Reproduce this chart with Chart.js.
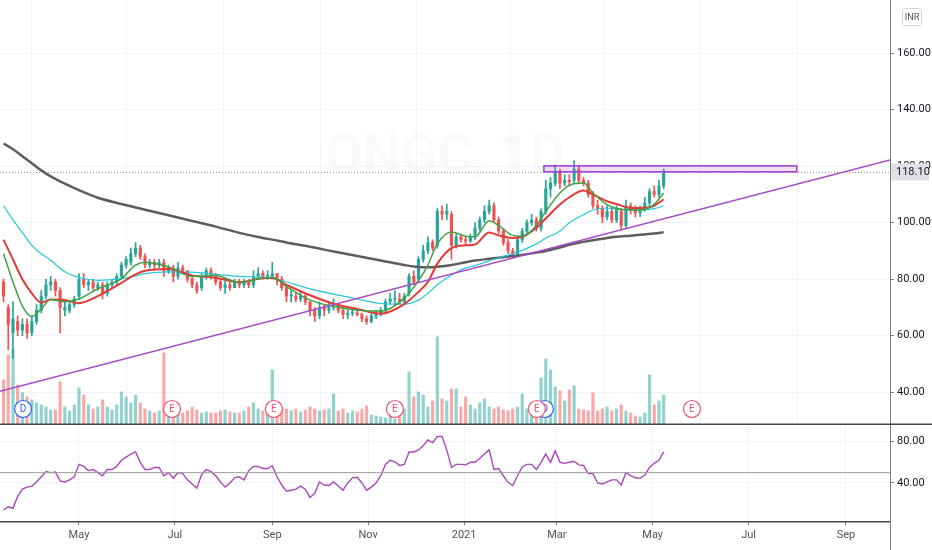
<!DOCTYPE html>
<html>
<head>
<meta charset="utf-8">
<script src="https://cdn.jsdelivr.net/npm/chart.js@4.4.1/dist/chart.umd.min.js"></script>
<style>
  html, body { margin: 0; padding: 0; background: #fff; }
  #wrap { position: relative; width: 932px; height: 550px; overflow: hidden; }
  .pane { position: absolute; left: 0; width: 932px; }
</style>
</head>
<body>
<div id="wrap">
  <div class="pane" style="top:0;height:425px"><canvas id="priceChart"></canvas></div>
  <div class="pane" style="top:425px;height:125px"><canvas id="rsiChart"></canvas></div>
</div>
<script>
// daily bars, sampled every 3 days; x is days after 1 Mar 2020
const firstDay = 13;
const barStep = 3;
const xMin = 10.75, xMax = 577;

const monthDays = [61, 122, 184, 245, 306, 365, 426, 487, 549];
const monthLabels = ['May', 'Jul', 'Sep', 'Nov', '2021', 'Mar', 'May', 'Jul', 'Sep'];

const opens = [
  79, 70, 61, 65, 62, 64, 61, 65, 69, 74,
  78, 79, 76, 69, 69, 71, 74, 80, 78, 79,
  77, 78, 75, 78, 79, 81, 85, 86, 89, 91,
  88, 85, 86, 85, 86, 83, 84, 81, 84, 83,
  80, 78, 77, 81, 83, 81, 79, 77, 78, 77,
  79, 78, 79, 78, 81, 82, 81, 81, 82, 80,
  77, 74, 74, 73, 74, 72, 69, 67, 70, 69,
  70, 70.5, 69, 67.5, 68, 68, 67.5, 66, 65, 67,
  68, 69, 72, 73, 73, 72, 75, 81, 80, 87,
  90, 93, 92, 104, 103, 103, 92, 95, 94, 93.5,
  95, 98, 101, 104, 106, 101, 97, 93, 90, 89,
  94, 97, 100, 101, 98, 104, 112, 114, 118, 114,
  115, 115, 119, 115, 114, 110, 106, 105, 102, 104,
  101, 104, 99, 106, 104.5, 103.5, 105, 107, 111, 110,
  113
];
const highs = [
  80, 71, 72, 67, 66, 66, 67, 71, 76, 80,
  81, 80, 77, 72, 72, 74, 82, 82, 80, 80,
  79, 79, 79, 80, 82, 86, 88, 91, 93, 92,
  89, 87, 87, 87, 87, 85, 85, 86, 85, 83,
  81, 79, 82, 84, 84, 82, 80, 80, 80, 80,
  80, 80, 80, 83, 84, 83, 83, 86, 82, 81,
  78, 76, 75, 76, 75, 72, 70, 72, 71, 72,
  73, 71, 70, 69, 70, 69, 68, 67, 68, 69,
  70, 73, 75, 76, 75, 75, 82, 83, 88, 92,
  95, 94, 105, 106, 106.5, 104, 96, 96, 95, 96,
  100, 102, 106, 108, 107, 102, 98, 94, 91, 95,
  98, 101, 103, 102, 105, 115, 116, 120.4, 119, 117,
  117, 122, 120, 116, 115, 111, 108, 106, 106, 105,
  106, 105, 108, 107, 106, 106, 109, 112, 113, 115,
  119
];
const lows = [
  72, 55, 52, 60, 60, 59, 60, 64, 68, 73,
  76, 74, 61, 67, 68, 70, 73, 77, 76, 76,
  76, 73, 74, 77, 78, 80, 84, 85, 88, 87,
  84, 84, 83, 84, 81, 82, 79, 80, 82, 79,
  77, 75, 76, 80, 80, 78, 76, 75, 76, 77,
  77, 77, 77, 77, 80, 80, 80, 80, 78, 76,
  72, 72, 72, 72, 71, 67, 65, 66, 67, 68,
  69, 68, 66, 66, 67, 67, 65, 64, 64.5, 66,
  67, 68, 71, 71, 71, 71, 74, 78, 79, 86,
  89, 90, 91, 101, 101, 87, 91, 93, 92, 93,
  94, 97, 100, 103, 100, 96, 92, 89, 87.5, 88,
  93, 96, 99, 97, 97, 103, 109, 113, 112, 113,
  113, 114, 114, 113, 109, 105, 103, 100, 101, 100,
  100, 97.5, 98, 103, 102, 102, 104, 106, 109, 109,
  112
];
const closes = [
  74, 64, 66, 62, 64, 61, 65, 69, 74, 78,
  79, 76, 70, 70, 71, 73, 80, 78, 79, 77,
  78, 75, 78, 79, 81, 85, 87, 89, 91, 88,
  85, 86, 85, 86, 83, 84, 81, 84, 83, 80,
  78, 76, 81, 83, 81, 79, 77, 78, 77, 79,
  78, 79, 78, 81, 82, 81, 81, 82, 80, 77,
  74, 74.5, 73, 74, 72, 69, 67, 70, 69, 70,
  70.5, 69, 67.5, 68, 68, 67.5, 66, 65, 67, 68,
  69, 72, 73, 73, 72, 74, 81, 79, 87, 90,
  93, 91, 104, 103, 104, 92, 95, 94, 93.5, 95,
  98, 101, 104, 106, 101, 97, 93, 90, 89, 94,
  97, 100, 101, 98, 104, 112, 114, 118, 114, 115,
  114.5, 119, 115, 114, 110, 106, 105, 102, 104, 101,
  105, 99, 106, 104.5, 103.5, 105, 107, 111, 110, 113,
  118.1
];
// volume, millions of shares
const volumes = [
  45, 70, 76, 40, 32, 28, 25, 22, 20, 18,
  15, 15, 43, 18, 14, 20, 37, 30, 20, 16,
  18, 25, 18, 15, 20, 33, 28, 22, 30, 22,
  16, 14, 12, 14, 72, 18, 16, 12, 12, 14,
  18, 15, 12, 13, 12, 12, 14, 15, 13, 12,
  12, 14, 18, 22, 16, 14, 18, 55, 22, 18,
  16, 14, 16, 13, 15, 18, 16, 14, 15, 16,
  31, 14, 16, 12, 14, 13, 16, 19, 10, 9,
  8, 7, 9, 6, 8, 16, 53, 28, 33, 30,
  18, 24, 88, 26, 24, 36, 36, 18, 28, 20,
  16, 22, 26, 18, 16, 18, 15, 14, 16, 18,
  31, 16, 14, 18, 47, 66, 55, 38, 34, 24,
  35, 39, 16, 15, 14, 32, 14, 16, 18, 14,
  16, 20, 14, 12, 9, 8, 12, 50, 20, 24,
  30
];
const rsiValues = [
  14, 17, 15.5, 27, 34, 36, 37, 41, 46, 51,
  50, 50.5, 42, 41, 43, 46, 58, 56, 52, 53,
  50, 47, 53, 53, 56, 62, 65, 68, 70, 60,
  53, 53, 55, 55, 47, 50, 44.5, 50, 49, 43,
  39, 35, 48, 53, 51, 47, 41, 36, 40, 45,
  46, 43, 52, 56, 56, 54, 54, 56.5, 46, 38,
  32, 33, 34, 37, 34, 26, 30, 41, 38, 37.5,
  41, 37, 33, 40, 45, 45.5, 40, 33, 36, 40,
  47, 58, 62, 60.5, 57, 58, 70, 70, 72, 76,
  81.6, 79, 85, 85, 72, 55, 58, 58, 57.5, 60,
  60, 64, 68, 72, 53, 54, 47, 40.6, 37.5, 47,
  55.5, 58, 58, 53, 60, 68, 60, 71, 60, 59,
  60, 61, 57.5, 57, 49, 49, 40, 39, 41, 43,
  43, 38, 50, 47, 45, 44.5, 47.5, 55, 59, 62,
  70
];
const rsiMid = 50;

// moving averages, read at these bar numbers
const maBars = [0, 2, 4, 6, 8, 10, 13, 16, 20, 25, 28, 30, 35, 40, 45, 50, 55, 57, 60, 65, 70, 75, 80,
  85, 88, 90, 92, 95, 98, 100, 103, 105, 108, 110, 113, 115, 118, 120, 123, 125, 128, 130, 133, 135, 138, 140];
const emaFast = [89, 79, 70.5, 66.8, 69.5, 72.8, 72, 73, 76.6, 80.2, 85, 86, 84.3, 81, 81.3, 78.8, 80.4, 80.6,
  77.4, 72.6, 70.4, 69, 68.7, 73.3, 79.5, 85, 92.5, 96.7, 95.2, 95, 100.7, 99, 95.5, 95.2, 99, 104, 110.5,
  113.2, 114, 110.5, 106.4, 105, 104.5, 104.5, 106.5, 110.5];
const emaMid = [94, 87, 80, 75, 71.7, 72.8, 72.6, 71.5, 74, 78.7, 81.7, 83, 83.6, 81.3, 80.5, 79, 80.3, 80.4,
  78, 74.3, 71.3, 69.5, 67.8, 71.2, 75.5, 79, 85.5, 91, 92, 92.3, 96.5, 95.5, 94.6, 95, 98.2, 101.5, 106.4,
  109, 111.4, 110, 107.6, 106.6, 105.2, 105.2, 106, 108.3];
const emaSlow = [106, 101, 96.5, 92, 89, 86.7, 82.6, 80.6, 79.6, 80.2, 81.2, 82, 82.6, 82.5, 81.7, 81, 80.7,
  80.4, 79, 76.6, 74.7, 73, 71.4, 71.2, 72.6, 75, 78, 81.5, 84, 84.8, 86.5, 87.6, 89, 90.2, 92.5, 94.5, 97,
  100, 102.8, 104.5, 105.2, 104.8, 104.5, 104.5, 105, 106];
const sma200 = [128, 126, 123.5, 121, 118.5, 116.4, 113.8, 111.5, 108.8, 106.6, 105.4, 104.6, 102.6, 100.6,
  98.6, 96.4, 94.6, 94, 93, 91.5, 89.8, 88.2, 86.6, 85, 84.3, 84.2, 84.4, 85, 86, 86.6, 87.2, 87.6, 88.2,
  88.6, 89.4, 90, 91.2, 92.2, 93.2, 93.8, 94.6, 95, 95.4, 95.7, 96.2, 96.6];

// drawings
const trendDays = [10.75, 577];
const trendPrices = [40.3, 122.2];
const boxDays = [356.8, 517.7];
const boxPrices = [118.0, 120.1];
const earningsDays = [120.2, 185, 262, 352.3, 451];
const dividendDays = [25.4, 357.4];

const UP = '#26a69a', DOWN = '#ef5350';
const FONT = 'Roboto, "Liberation Sans", sans-serif';
const PANE_LINE = '#434651';
const barDay = i => firstDay + i * barStep;

const candleColors = closes.map((c, i) => c >= opens[i] ? UP : DOWN);
const volColors = closes.map((c, i) => c >= opens[i] ? 'rgba(38,166,154,0.5)' : 'rgba(239,83,80,0.5)');
const bodyData = closes.map((c, i) => ({x: barDay(i), y: [Math.min(opens[i], c), Math.max(opens[i], c)]}));
const wickData = closes.map((c, i) => ({x: barDay(i), y: [lows[i], highs[i]]}));
const volData = volumes.map((v, i) => ({x: barDay(i), y: v}));
const maLine = vals => maBars.map((b, k) => ({x: barDay(b), y: vals[k]}));

function monthTicks(scale) {
    scale.ticks = monthDays.map(v => ({value: v}));
}

// no label overflow padding, so the plot fills the pane edge to edge
function noPad(scale) {
    scale.paddingTop = scale.paddingBottom = scale.paddingLeft = scale.paddingRight = 0;
}

function hLine(ctx, x1, x2, y, color, width) {
    ctx.strokeStyle = color;
    ctx.lineWidth = width;
    ctx.beginPath();
    ctx.moveTo(x1, y);
    ctx.lineTo(x2, y);
    ctx.stroke();
}

function drawMarker(ctx, cx, cy, letter, color) {
    ctx.beginPath();
    ctx.arc(cx, cy, 8.5, 0, Math.PI * 2);
    ctx.fillStyle = '#fff';
    ctx.fill();
    ctx.lineWidth = 1.2;
    ctx.strokeStyle = color;
    ctx.stroke();
    ctx.fillStyle = color;
    ctx.font = '10px ' + FONT;
    ctx.textAlign = 'center';
    ctx.textBaseline = 'middle';
    ctx.fillText(letter, cx, cy + 0.5);
}

const priceOverlays = {
    id: 'priceOverlays',
    beforeDatasetsDraw(chart) {
        const {ctx, chartArea: a} = chart;
        ctx.save();
        ctx.font = '600 54px ' + FONT;
        ctx.fillStyle = 'rgba(19,23,34,0.025)';
        ctx.textAlign = 'center';
        ctx.textBaseline = 'middle';
        ctx.fillText('ONGC, 1D', (a.left + a.right) / 2, 158);
        ctx.restore();
    },
    afterDatasetsDraw(chart) {
        const {ctx, chartArea: a, scales: {x, y}} = chart;
        ctx.save();
        // last price line
        const yp = Math.round(y.getPixelForValue(closes[closes.length - 1])) + 0.5;
        ctx.setLineDash([1, 2]);
        hLine(ctx, a.left, a.right, yp, '#9598a1', 1);
        ctx.setLineDash([]);
        // resistance box
        const bx1 = x.getPixelForValue(boxDays[0]), bx2 = x.getPixelForValue(boxDays[1]);
        const by1 = y.getPixelForValue(boxPrices[1]), by2 = y.getPixelForValue(boxPrices[0]);
        ctx.fillStyle = 'rgba(186,104,200,0.22)';
        ctx.fillRect(bx1, by1, bx2 - bx1, by2 - by1);
        ctx.strokeStyle = '#a13bd1';
        ctx.lineWidth = 1.5;
        ctx.strokeRect(bx1, by1, bx2 - bx1, by2 - by1);
        // events
        const cy = a.bottom - 16;
        dividendDays.forEach(d => drawMarker(ctx, x.getPixelForValue(d), cy, 'D', '#2962ff'));
        earningsDays.forEach(d => drawMarker(ctx, x.getPixelForValue(d), cy, 'E', '#f0506e'));
        ctx.restore();
    },
    afterDraw(chart) {
        const {ctx, chartArea: a, scales: {y}, width} = chart;
        ctx.save();
        // pane separator
        hLine(ctx, 0, width, a.bottom - 0.75, PANE_LINE, 1.5);
        // last price label
        const last = closes[closes.length - 1];
        const yp = y.getPixelForValue(last);
        ctx.fillStyle = '#dfe1e6';
        ctx.fillRect(a.right + 1, yp - 8, 38, 17);
        ctx.fillStyle = '#131722';
        ctx.font = '11px ' + FONT;
        ctx.textAlign = 'left';
        ctx.textBaseline = 'middle';
        ctx.fillText(last.toFixed(2), a.right + 6, yp + 0.5);
        // currency badge
        ctx.strokeStyle = '#d1d4dc';
        ctx.lineWidth = 1;
        ctx.beginPath();
        ctx.roundRect(a.right + 12.5, 8.5, 19, 17, 3);
        ctx.stroke();
        ctx.fillStyle = '#50535e';
        ctx.font = '9px ' + FONT;
        ctx.textAlign = 'center';
        ctx.fillText('INR', a.right + 22, 17.5);
        ctx.restore();
    }
};

// bottom pane edge, and the right-hand axis line carried down through the date labels
const rsiFrame = {
    id: 'rsiFrame',
    afterDraw(chart) {
        const {ctx, chartArea: a, height} = chart;
        ctx.save();
        hLine(ctx, 0, a.right + 1, a.bottom + 0.75, PANE_LINE, 1.5);
        ctx.strokeStyle = '#787b86';
        ctx.lineWidth = 1;
        ctx.beginPath();
        ctx.moveTo(Math.round(a.right) + 0.5, a.bottom);
        ctx.lineTo(Math.round(a.right) + 0.5, height);
        ctx.stroke();
        ctx.restore();
    }
};

function drawCharts() {
    const priceCtx = document.getElementById('priceChart').getContext('2d');
    new Chart(priceCtx, {
        type: 'bar',
        data: {
            datasets: [
                {type: 'bar', data: volData, yAxisID: 'yVol', backgroundColor: volColors,
                    barThickness: 2.5, grouped: false, order: 10},
                {type: 'bar', data: wickData, backgroundColor: candleColors,
                    barThickness: 1, grouped: false, order: 8},
                {type: 'bar', data: bodyData, backgroundColor: candleColors,
                    barThickness: 2.5, grouped: false, minBarLength: 1, order: 7},
                {type: 'line', data: maLine(sma200), borderColor: '#5d5d5d', borderWidth: 2.5,
                    pointRadius: 0, cubicInterpolationMode: 'monotone', order: 6},
                {type: 'line', data: maLine(emaSlow), borderColor: '#26c6da', borderWidth: 1.2,
                    pointRadius: 0, cubicInterpolationMode: 'monotone', order: 5},
                {type: 'line', data: maLine(emaMid), borderColor: '#e53935', borderWidth: 2,
                    pointRadius: 0, cubicInterpolationMode: 'monotone', order: 4},
                {type: 'line', data: maLine(emaFast), borderColor: '#43a047', borderWidth: 1.5,
                    pointRadius: 0, cubicInterpolationMode: 'monotone', order: 3},
                {type: 'line', data: trendDays.map((d, k) => ({x: d, y: trendPrices[k]})),
                    borderColor: '#a64dc8', borderWidth: 1.5, pointRadius: 0, order: 2}
            ]
        },
        options: {
            responsive: true,
            maintainAspectRatio: false,
            animation: false,
            events: [],
            layout: {padding: 0, autoPadding: false},
            plugins: {legend: {display: false}, tooltip: {enabled: false}},
            scales: {
                x: {
                    type: 'linear', min: xMin, max: xMax, offset: false,
                    afterBuildTicks: monthTicks,
                    afterFit: s => { s.height = 0; noPad(s); },
                    ticks: {display: false},
                    grid: {color: '#f0f3fa', drawTicks: false},
                    border: {display: false}
                },
                y: {
                    position: 'right', min: 28.4, max: 178.8,
                    afterFit: s => { s.width = 42; noPad(s); },
                    ticks: {stepSize: 20, includeBounds: false, padding: 3, color: '#131722',
                        font: {family: FONT, size: 11}, callback: v => v.toFixed(2)},
                    grid: {color: '#f0f3fa', tickColor: '#787b86', tickLength: 4},
                    border: {color: '#787b86', width: 1}
                },
                yVol: {display: false, min: 0, max: 424}
            }
        },
        plugins: [priceOverlays]
    });

    const rsiCtx = document.getElementById('rsiChart').getContext('2d');
    new Chart(rsiCtx, {
        type: 'line',
        data: {
            datasets: [
                {data: [{x: xMin, y: rsiMid}, {x: xMax, y: rsiMid}], borderColor: '#9e9e9e',
                    borderWidth: 1, pointRadius: 0},
                {data: rsiValues.map((v, i) => ({x: barDay(i), y: v})), borderColor: '#ab47bc',
                    borderWidth: 1.4, pointRadius: 0}
            ]
        },
        options: {
            responsive: true,
            maintainAspectRatio: false,
            animation: false,
            events: [],
            layout: {padding: 0, autoPadding: false},
            plugins: {legend: {display: false}, tooltip: {enabled: false}},
            scales: {
                x: {
                    type: 'linear', min: xMin, max: xMax, offset: false,
                    afterBuildTicks: monthTicks,
                    afterFit: s => { s.height = 29; noPad(s); },
                    ticks: {autoSkip: false, maxRotation: 0, padding: 4, color: '#50535e',
                        font: {family: FONT, size: 11},
                        callback: v => monthLabels[monthDays.indexOf(v)]},
                    grid: {color: '#f0f3fa', tickColor: '#787b86', tickLength: 4},
                    border: {display: false}
                },
                y: {
                    position: 'right', min: 3.2, max: 96.1,
                    afterBuildTicks: s => { s.ticks = [{value: 40}, {value: 80}]; },
                    afterFit: s => { s.width = 42; noPad(s); },
                    ticks: {padding: 3, color: '#131722', font: {family: FONT, size: 11},
                        callback: v => v.toFixed(2)},
                    grid: {color: '#f0f3fa', tickColor: '#787b86', tickLength: 4},
                    border: {color: '#787b86', width: 1}
                }
            }
        },
        plugins: [rsiFrame]
    });
}

document.addEventListener('DOMContentLoaded', drawCharts);
</script>
</body>
</html>
